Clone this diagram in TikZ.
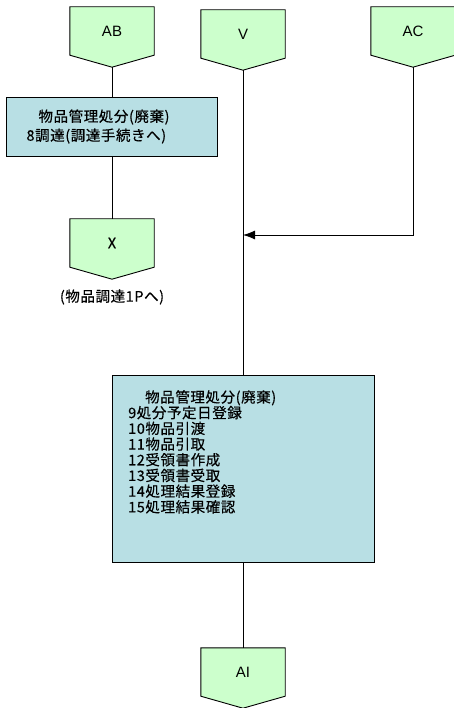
\documentclass[tikz,border=0pt]{standalone}
\usepackage{fontspec}
\setmainfont{Noto Sans CJK JP}[LetterSpace=4, FakeBold=0.4]
\newfontfamily\latinfont{Liberation Sans}
\usetikzlibrary{arrows.meta,backgrounds}
\definecolor{tagfill}{RGB}{204,255,204}
\definecolor{procfill}{RGB}{184,223,228}
\tikzstyle{tag} = [minimum width=84pt, minimum height=48pt, inner sep=0pt]
\tikzstyle{tagedge} = [draw=black, fill=tagfill, line width=0.9pt]
\tikzstyle{tagtext} = [font=\latinfont\fontsize{15}{18}\selectfont]
\tikzstyle{procbox} = [draw=black, fill=procfill, line width=0.9pt, rectangle, inner sep=0pt]
\tikzstyle{link} = [draw=black, line width=0.8pt]

\begin{document}
\begin{tikzpicture}[x=1pt, y=-1pt, font=\fontsize{14.5}{15.7}\selectfont]
    \useasboundingbox (0,0) rectangle (453,708);
    % off-page connectors
    \node[tag, tagtext] (ab) at (112,31) {AB};
    \node[tag, tagtext] (v) at (243,34) {V};
    \node[tag, tagtext] (ac) at (413,31) {AC};
    \node[tag] (x) at (112,243) {X};
    \node[tag, tagtext] (ai) at (243,672) {AI};
    \foreach \n in {ab,v,ac,x,ai}{
        \coordinate (\n-tip) at ([yshift=-12pt]\n.south);
        \begin{pgfonlayer}{background}
            \draw[tagedge] (\n.north west) -- (\n.north east) -- (\n.south east)
                -- (\n-tip) -- (\n.south west) -- cycle;
        \end{pgfonlayer}
    }
    \node (xnote) at (112,297) {(物品調達1Pへ)};
    % process boxes
    \node[procbox, minimum width=211pt, minimum height=59pt, text width=171pt,
        align=left, font=\fontsize{14.5}{19}\selectfont] (proc1) at (112,126.5)
        {\hspace*{12pt}物品管理処分(廃棄)\\8調達(調達手続きへ)};
    \node[procbox, minimum width=262pt, minimum height=187pt] (proc2) at (243,468.5) {};
    \node[anchor=north west, inner sep=0pt, align=left] (proc2text) at (128,390)
        {\hspace*{17pt}物品管理処分(廃棄)\\9処分予定日登録\\10物品引渡\\11物品引取\\
         12受領書作成\\13受領書受取\\14処理結果登録\\15処理結果確認};
    % connectors
    \coordinate (merge) at (243,235);
    \draw[link] (ab-tip) -- (proc1);
    \draw[link] (proc1) -- (x);
    \draw[link] (v-tip) -- (proc2);
    \draw[link, -{Latex[length=12pt,width=9pt]}] (ac-tip) |- (merge);
    \draw[link] (proc2) -- (ai);
\end{tikzpicture}
\end{document}
